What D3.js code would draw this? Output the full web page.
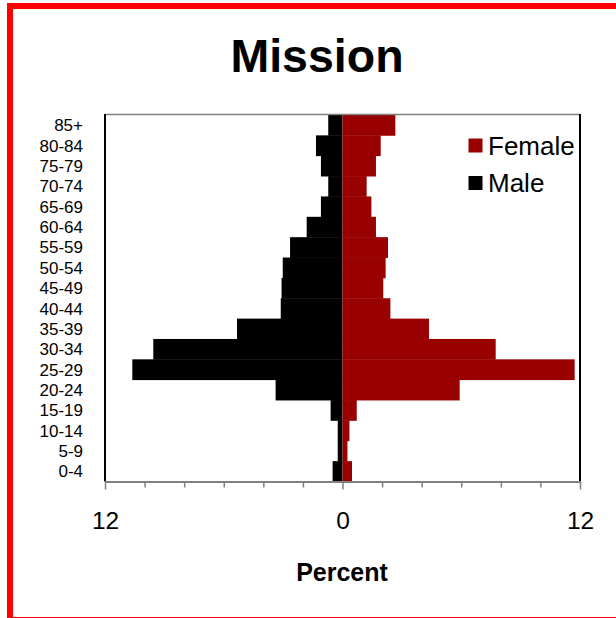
<!DOCTYPE html>
<html><head><meta charset="utf-8">
<script src="https://cdn.jsdelivr.net/npm/d3@7"></script>
<style>html,body{margin:0;padding:0;background:#fff;}svg{display:block;font-family:"Liberation Sans",Arial,sans-serif;}</style>
</head><body>
<svg id="c" width="616" height="618"></svg>
<script>
const ageGroups = ["0-4","5-9","10-14","15-19","20-24","25-29","30-34","35-39","40-44","45-49","50-54","55-59","60-64","65-69","70-74","75-79","80-84","85+"];
const maleValues = [0.50,0.24,0.24,0.60,3.38,10.62,9.56,5.33,3.12,3.08,3.02,2.65,1.81,1.09,0.72,1.09,1.34,0.72];
const femaleValues = [0.48,0.25,0.35,0.72,5.92,11.73,7.74,4.37,2.42,2.06,2.18,2.30,1.69,1.46,1.22,1.69,1.93,2.67];
const tickValues = [-12,-10,-8,-6,-4,-2,0,2,4,6,8,10,12];
const tickLabels = {"-12":"12","0":"0","12":"12"};
const seriesNames = ["Female","Male"];
const seriesColors = ["#990000","#000000"];

const svg = d3.select("#c");
const L = 105, R = 580, T = 115, B = 481.5;

const x = d3.scaleLinear().domain([-12,12]).range([L,R]);
const y = d3.scaleBand().domain(ageGroups.slice().reverse()).range([T,B]).padding(0);

// outer red border
svg.append("rect").attr("x",10).attr("y",6).attr("width",620).attr("height",614)
  .attr("fill","none").attr("stroke","#ff0000").attr("stroke-width",6);

// title
svg.append("text").attr("x",317).attr("y",71.5).attr("text-anchor","middle")
  .attr("font-size",46.5).attr("font-weight","bold").text("Mission");

// bars
svg.append("g").selectAll("rect").data(ageGroups).join("rect")
  .attr("x",(d,i)=>x(-maleValues[i])).attr("y",d=>y(d))
  .attr("width",(d,i)=>x(0)-x(-maleValues[i])).attr("height",y.bandwidth()+0.4)
  .attr("fill",seriesColors[1]);
svg.append("g").selectAll("rect").data(ageGroups).join("rect")
  .attr("x",x(0)).attr("y",d=>y(d))
  .attr("width",(d,i)=>x(femaleValues[i])-x(0)).attr("height",y.bandwidth()+0.4)
  .attr("fill",seriesColors[0]);

// frame
svg.append("line").attr("x1",L).attr("x2",R).attr("y1",T-0.5).attr("y2",T-0.5).attr("stroke","#808080").attr("stroke-width",1.5);
svg.append("line").attr("x1",L).attr("x2",L).attr("y1",T-1).attr("y2",B).attr("stroke","#000").attr("stroke-width",2);
svg.append("line").attr("x1",R).attr("x2",R).attr("y1",T-1).attr("y2",B).attr("stroke","#000").attr("stroke-width",2);

// x axis
const xAxis = d3.axisBottom(x).tickValues(tickValues).tickSize(6).tickSizeOuter(0)
  .tickFormat(d=>tickLabels[String(d)]||"");
const gx = svg.append("g").attr("transform",`translate(0,${B})`).call(xAxis);
gx.select(".domain").attr("stroke","#808080").attr("stroke-width",2);
gx.selectAll(".tick line").attr("stroke","#808080").attr("stroke-width",1.5)
  .attr("y2",d=>(d===-12||d===0||d===12)?8:6);
gx.selectAll(".tick text").attr("y",30).attr("dy","0.71em").attr("font-size",24.5)
  .attr("fill","#000").attr("font-family","Liberation Sans, Arial, sans-serif");

// y axis labels
const yAxis = d3.axisLeft(y).tickSize(0).tickPadding(0);
const gy = svg.append("g").attr("transform",`translate(83,0)`).call(yAxis);
gy.select(".domain").remove();
gy.selectAll(".tick text").attr("font-size",17).attr("fill","#000").attr("dy","0.36em")
  .attr("font-family","Liberation Sans, Arial, sans-serif");

// x title
svg.append("text").attr("x",342).attr("y",580.5).attr("text-anchor","middle")
  .attr("font-size",25).attr("font-weight","bold").text("Percent");

// legend
const lg = svg.append("g");
seriesNames.forEach((n,i)=>{
  const yy = 138.5 + i*37.5;
  lg.append("rect").attr("x",468.5).attr("y",yy).attr("width",14).attr("height",14).attr("fill",seriesColors[i]);
  lg.append("text").attr("x",488).attr("y",yy+16).attr("font-size",26).text(n);
});
</script>
</body></html>
